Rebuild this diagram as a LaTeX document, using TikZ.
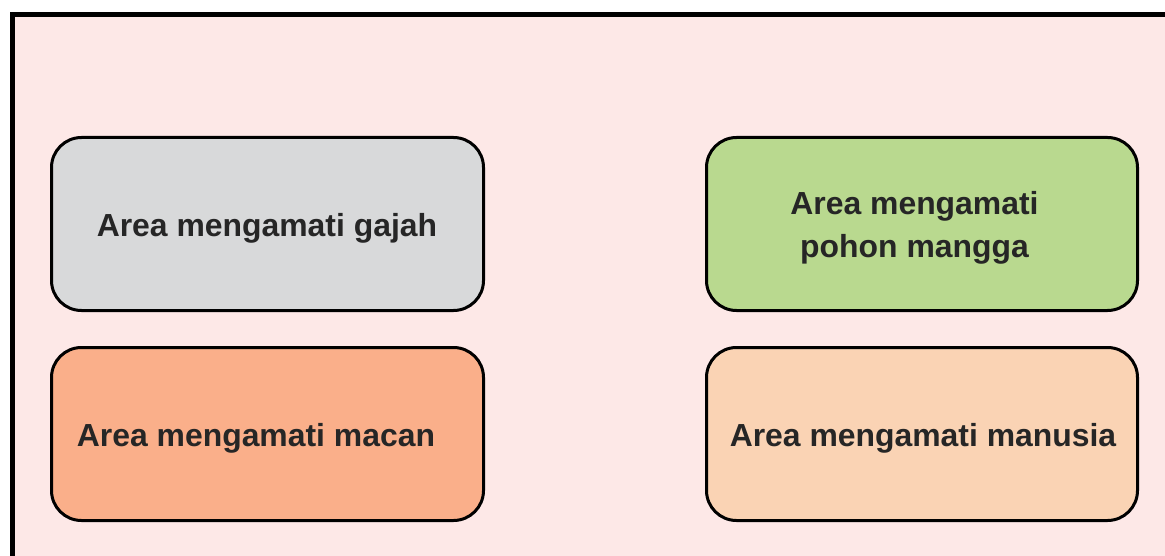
\documentclass[tikz,border=0pt]{standalone}
\usepackage{fontspec}
\setmainfont{Liberation Sans}
\definecolor{bgpink}{HTML}{FDE8E7}
\definecolor{boxgray}{HTML}{D8D9DA}
\definecolor{boxgreen}{HTML}{B9D98F}
\definecolor{boxorange}{HTML}{FAAF8A}
\definecolor{boxpeach}{HTML}{FAD3B4}
\definecolor{txt}{HTML}{262626}
\begin{document}
\begin{tikzpicture}[x=1pt,y=-1pt,
  area/.style={draw=black,line width=3pt,rounded corners=30pt},
  lbl/.style={text=txt,font=\fontsize{31.9}{43}\selectfont\bfseries,align=center,inner sep=0pt}]
\useasboundingbox (0,0) rectangle (1165,556);
\clip (0,0) rectangle (1165,556);
\draw[fill=bgpink,line width=5pt] (12,14.5) rectangle (1185,580);
\draw[area,fill=boxgray] (51.5,137.5) rectangle (483.5,310.5);
\draw[area,fill=boxgreen] (706.5,137.5) rectangle (1137.5,310.5);
\draw[area,fill=boxorange] (51.5,347.5) rectangle (483.5,520.5);
\draw[area,fill=boxpeach] (706.5,347.5) rectangle (1137.5,520.5);
\node[lbl] (gajah) at (267,228) {Area mengamati gajah};
\node[lbl] (mangga) at (914.5,227.5) {Area mengamati\\pohon mangga};
\node[lbl] (macan) at (256,438) {Area mengamati macan};
\node[lbl] (manusia) at (923,438) {Area mengamati manusia};
\end{tikzpicture}
\end{document}
